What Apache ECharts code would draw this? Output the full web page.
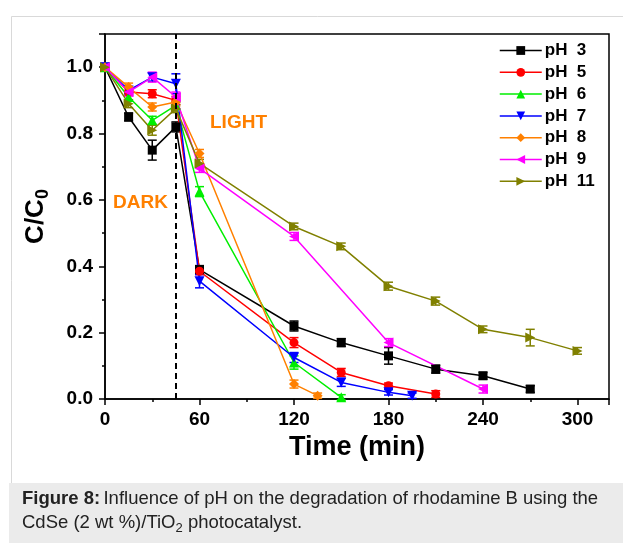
<!DOCTYPE html>
<html>
<head>
<meta charset="utf-8">
<script src="https://cdn.jsdelivr.net/npm/echarts@6/dist/echarts.min.js"></script>
<style>
  html, body { margin: 0; padding: 0; background: #fff; }
  #chart { width: 623px; height: 543px; }
</style>
</head>
<body>
<div id="chart"></div>
<script>
// Sampling times (min) for each run
const timesPH3  = [0, 15, 30, 45, 60, 120, 150, 180, 210, 240, 270];
const timesPH5  = [0, 15, 30, 45, 60, 120, 150, 180, 210];
const timesPH6  = [0, 15, 30, 45, 60, 120, 150];
const timesPH7  = [0, 15, 30, 45, 60, 120, 150, 180, 195];
const timesPH8  = [0, 15, 30, 45, 60, 120, 135];
const timesPH9  = [0, 15, 30, 45, 60, 120, 180, 240];
const timesPH11 = [0, 15, 30, 45, 60, 120, 150, 180, 210, 240, 270, 300];

// Relative concentration C/C0
const ratioPH3  = [1.0, 0.85, 0.75, 0.82, 0.39, 0.22, 0.17, 0.13, 0.09, 0.07, 0.03];
const ratioPH5  = [1.0, 0.925, 0.92, 0.90, 0.385, 0.17, 0.08, 0.04, 0.015];
const ratioPH6  = [1.0, 0.91, 0.84, 0.885, 0.625, 0.11, 0.005];
const ratioPH7  = [1.0, 0.93, 0.97, 0.95, 0.355, 0.125, 0.05, 0.02, 0.01];
const ratioPH8  = [1.0, 0.94, 0.88, 0.895, 0.74, 0.045, 0.01];
const ratioPH9  = [1.0, 0.925, 0.97, 0.91, 0.695, 0.49, 0.17, 0.03];
const ratioPH11 = [1.0, 0.89, 0.81, 0.875, 0.71, 0.52, 0.46, 0.34, 0.295, 0.21, 0.185, 0.145];

// Standard deviation of each measurement
const errPH3  = [0.005, 0.012, 0.03, 0.015, 0.012, 0.015, 0.012, 0.025, 0.012, 0.01, 0.01];
const errPH5  = [0.005, 0.01, 0.012, 0.012, 0.01, 0.015, 0.012, 0.008, 0.01];
const errPH6  = [0.005, 0.01, 0.012, 0.01, 0.015, 0.02, 0.008];
const errPH7  = [0.005, 0.01, 0.012, 0.03, 0.02, 0.015, 0.012, 0.008, 0.008];
const errPH8  = [0.005, 0.012, 0.012, 0.012, 0.012, 0.012, 0.008];
const errPH9  = [0.005, 0.012, 0.015, 0.015, 0.012, 0.012, 0.012, 0.012];
const errPH11 = [0.005, 0.012, 0.015, 0.012, 0.012, 0.01, 0.01, 0.012, 0.012, 0.01, 0.025, 0.01];

const seriesNames = ['pH 3', 'pH 5', 'pH 6', 'pH 7', 'pH 8', 'pH 9', 'pH 11'];
const seriesTimes = [timesPH3, timesPH5, timesPH6, timesPH7, timesPH8, timesPH9, timesPH11];
const seriesRatios = [ratioPH3, ratioPH5, ratioPH6, ratioPH7, ratioPH8, ratioPH9, ratioPH11];
const seriesErrors = [errPH3, errPH5, errPH6, errPH7, errPH8, errPH9, errPH11];

const xTicks = [0, 60, 120, 180, 240, 300];
const yTicks = [0.0, 0.2, 0.4, 0.6, 0.8, 1.0];

const colors = ['#000000', '#ff0000', '#00ee00', '#0000ff', '#ff8000', '#ff00ff', '#808000'];
const symbols = ['rect', 'circle', 'triangle', 'triangle', 'diamond', 'triangle', 'triangle'];
const rotations = [0, 0, 0, 180, 0, 90, -90];
const sizes = [9, 9, 10, 10, 10, 10, 10];

const labelFont = 'Liberation Sans, Arial, sans-serif';

const series = [];
seriesNames.forEach((name, i) => {
  const pts = seriesTimes[i].map((t, k) => [t, seriesRatios[i][k]]);
  const errPts = seriesTimes[i].map((t, k) => [t, seriesRatios[i][k], seriesErrors[i][k]]);
  // vertical error bars with caps
  series.push({
    type: 'custom',
    name: name + ' error',
    data: errPts,
    z: 2,
    silent: true,
    renderItem: (params, api) => {
      const x = api.value(0), y = api.value(1), e = api.value(2);
      const top = api.coord([x, y + e]);
      const bot = api.coord([x, y - e]);
      const hw = 4.5;
      const st = { stroke: colors[i], lineWidth: 1.5 };
      return {
        type: 'group',
        children: [
          { type: 'line', shape: { x1: top[0], y1: top[1], x2: bot[0], y2: bot[1] }, style: st },
          { type: 'line', shape: { x1: top[0] - hw, y1: top[1], x2: top[0] + hw, y2: top[1] }, style: st },
          { type: 'line', shape: { x1: bot[0] - hw, y1: bot[1], x2: bot[0] + hw, y2: bot[1] }, style: st }
        ]
      };
    }
  });
  series.push({
    type: 'line',
    name: name,
    data: pts,
    z: 3,
    symbol: symbols[i],
    symbolSize: sizes[i],
    symbolRotate: rotations[i],
    showAllSymbol: true,
    lineStyle: { color: colors[i], width: 1.5 },
    itemStyle: { color: colors[i] },
    emphasis: { disabled: true },
    markLine: i === 0 ? {
      silent: true,
      symbol: 'none',
      label: { show: false },
      lineStyle: { color: '#000', type: [6, 4], width: 2 },
      data: [{ xAxis: 45 }]
    } : undefined
  });
});

const chart = echarts.init(document.getElementById('chart'), null, { renderer: 'canvas' });
chart.setOption({
  animation: false,
  backgroundColor: '#ffffff',
  grid: { left: 105, right: 14, top: 34, bottom: 144, show: true, borderColor: '#000', borderWidth: 1.5, backgroundColor: 'transparent' },
  legend: {
    orient: 'vertical',
    left: 499,
    top: 42,
    padding: 0,
    itemWidth: 42,
    itemHeight: 11,
    itemGap: 4.8,
    data: seriesNames.map((n, i) => ({ name: n, itemStyle: { color: colors[i] }, lineStyle: { color: colors[i], width: 1.5 } })),
    formatter: n => n.replace(' ', '  '),
    textStyle: { fontFamily: labelFont, fontWeight: 'bold', fontSize: 17, lineHeight: 17, color: '#000', padding: [0, 0, 0, -2] },
    selectedMode: false
  },
  xAxis: {
    type: 'value',
    min: 0,
    max: 320,
    interval: 60,
    name: 'Time (min)',
    nameLocation: 'middle',
    nameGap: 35,
    nameTextStyle: { fontFamily: labelFont, fontWeight: 'bold', fontSize: 27, color: '#000', verticalAlign: 'top' },
    axisLine: { lineStyle: { color: '#000', width: 1.5 } },
    axisTick: { inside: false, length: 6, lineStyle: { color: '#000', width: 1.5 } },
    minorTick: { show: true, splitNumber: 2, length: 3, lineStyle: { color: '#000', width: 1.5 } },
    splitLine: { show: false },
    axisLabel: {
      fontFamily: labelFont, fontWeight: 'bold', fontSize: 19, color: '#000', margin: 11,
      formatter: v => xTicks.includes(v) ? String(v) : ''
    }
  },
  yAxis: {
    type: 'value',
    min: 0,
    max: 1.1,
    interval: 0.2,
    name: '{m|C/C}{s|0}',
    nameLocation: 'middle',
    nameGap: 53,
    nameRotate: 90,
    nameTextStyle: {
      color: '#000',
      rich: {
        m: { fontFamily: labelFont, fontWeight: 'bold', fontSize: 26, color: '#000' },
        s: { fontFamily: labelFont, fontWeight: 'bold', fontSize: 18, color: '#000', verticalAlign: 'bottom', padding: [14, 0, 0, 0] }
      }
    },
    axisLine: { lineStyle: { color: '#000', width: 1.5 } },
    axisTick: { inside: false, length: 6, lineStyle: { color: '#000', width: 1.5 } },
    minorTick: { show: true, splitNumber: 2, length: 3, lineStyle: { color: '#000', width: 1.5 } },
    splitLine: { show: false },
    axisLabel: {
      fontFamily: labelFont, fontWeight: 'bold', fontSize: 19, color: '#000', margin: 12,
      formatter: v => {
        const hit = yTicks.find(t => Math.abs(t - v) < 1e-6);
        return hit === undefined ? '' : hit.toFixed(1);
      }
    }
  },
  graphic: [
    { type: 'rect', left: 9, top: 14, shape: { width: 613, height: 529 }, style: { fill: 'none', stroke: '#d9d9d9', lineWidth: 1 }, z: -10, silent: true },
    { type: 'rect', left: 9, top: 483, shape: { width: 614, height: 60 }, style: { fill: '#ebebeb' }, z: -9, silent: true },
    { type: 'text', left: 210, top: 113, style: { text: 'LIGHT', fill: '#ff8000', font: 'bold 19px ' + labelFont }, z: 10 },
    { type: 'text', left: 113, top: 193, style: { text: 'DARK', fill: '#ff8000', font: 'bold 19px ' + labelFont }, z: 10 },
    {
      type: 'text', left: 22, top: 489, z: 10,
      style: {
        text: '{b|Figure 8:} {n|Influence of pH on the degradation of rhodamine B using the}\n{n|CdSe (2 wt %)/TiO}{sub|2}{n| photocatalyst.}',
        rich: {
          b: { fontFamily: labelFont, fontWeight: 'bold', fontSize: 18.5, fill: '#222', lineHeight: 24 },
          n: { fontFamily: labelFont, fontSize: 18.5, fill: '#222', lineHeight: 24 },
          sub: { fontFamily: labelFont, fontSize: 13, fill: '#222', lineHeight: 24, verticalAlign: 'bottom', padding: [9, 0, 0, 0] }
        }
      }
    }
  ],
  series: series
});
</script>
</body>
</html>
